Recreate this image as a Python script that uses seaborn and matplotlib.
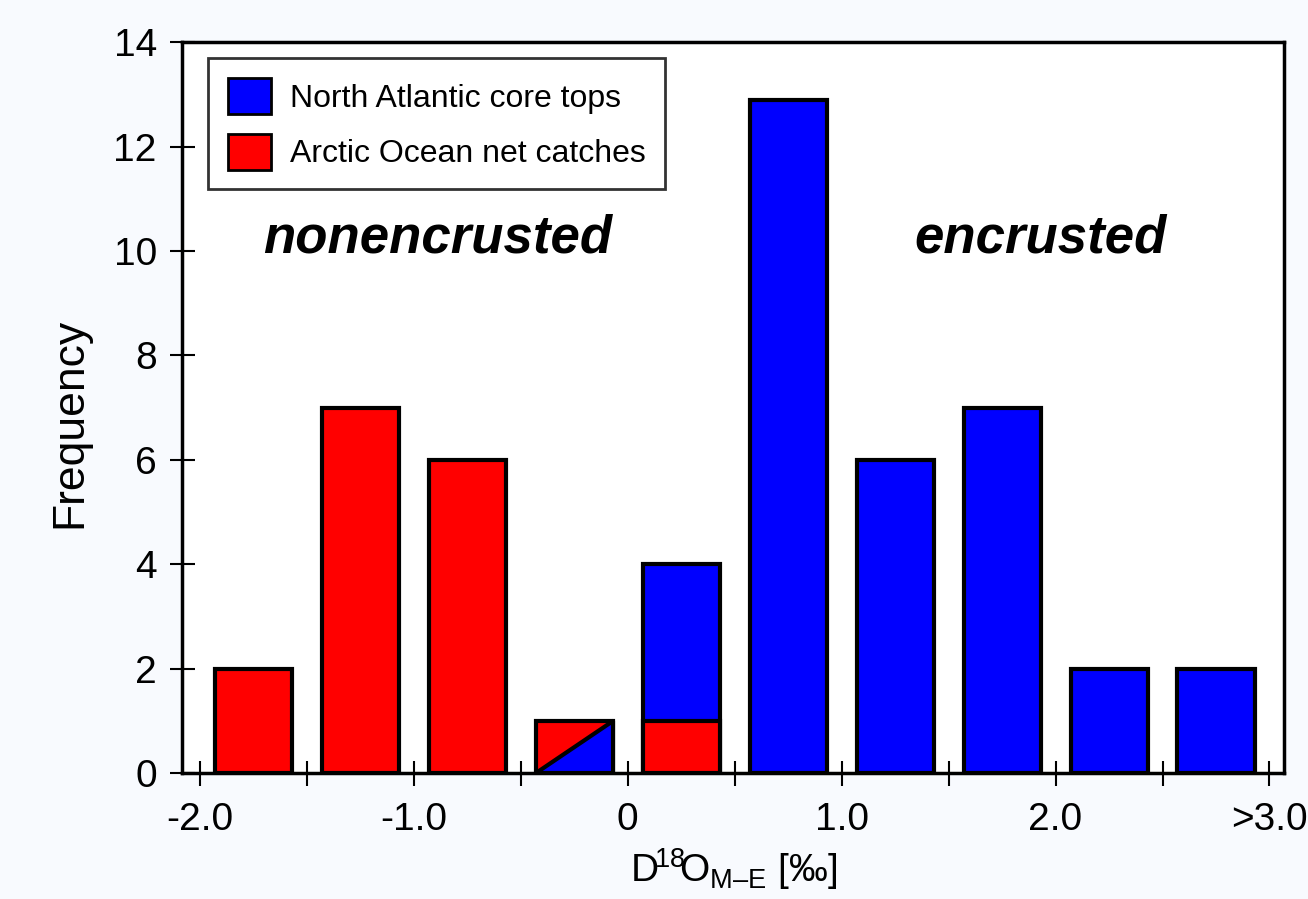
import numpy as np
import pandas as pd
import matplotlib
matplotlib.use("Agg")
import matplotlib.pyplot as plt
from matplotlib.patches import Polygon, Patch
import seaborn as sns

# -------------------------------------------------
# Data (bins of 0.5 permil)
# -------------------------------------------------
bin_centers = [-1.75, -1.25, -0.75, -0.25, 0.25, 0.75, 1.25, 1.75, 2.25, 2.75]
atlantic = [0, 0, 0, 1, 4, 12.9, 6, 7, 2, 2]   # North Atlantic core tops (stack total)
arctic = [2, 7, 6, 1, 1, 0, 0, 0, 0, 0]        # Arctic Ocean net catches
split_bin = -0.25                              # bar shared diagonally by both series

tick_pos = [-2.0, -1.5, -1.0, -0.5, 0.0, 0.5, 1.0, 1.5, 2.0, 2.5, 3.0]
tick_labels = ["-2.0", "", "-1.0", "", "0", "", "1.0", "", "2.0", "", ">3.0"]
y_ticks = [0, 2, 4, 6, 8, 10, 12, 14]

blue = "#0000FF"
red = "#FF0000"

sns.set_style("white")
plt.rcParams["font.family"] = ["Liberation Sans", "DejaVu Sans"]
plt.rcParams["mathtext.fontset"] = "custom"
plt.rcParams["mathtext.rm"] = "Liberation Sans"
plt.rcParams["mathtext.default"] = "regular"
plt.rcParams["axes.unicode_minus"] = False
plt.rcParams["text.color"] = "black"
plt.rcParams["axes.labelcolor"] = "black"

df = pd.DataFrame({"center": bin_centers, "atlantic": atlantic, "arctic": arctic})
df_blue = df[(df["atlantic"] > 0) & (df["center"] != split_bin)]
df_red = df[df["arctic"] > 0]

fig = plt.figure(figsize=(13.08, 8.99), dpi=100, facecolor="#F8FAFE")
ax = fig.add_axes([0.139, 0.140, 0.843, 0.813])
ax.set_facecolor("white")

bar_kw = dict(native_scale=True, width=0.72, saturation=1,
              edgecolor="black", linewidth=3, ax=ax)
sns.barplot(data=df_blue, x="center", y="atlantic", color=blue, **bar_kw)
sns.barplot(data=df_red, x="center", y="arctic", color=red, **bar_kw)

# split bar: lower-right half blue
for p in ax.patches:
    cx = p.get_x() + p.get_width() / 2
    if abs(cx - split_bin) < 1e-6 and p.get_facecolor()[0] > 0.9:
        x0, x1, h = p.get_x(), p.get_x() + p.get_width(), p.get_height()
        tri = Polygon([(x0, 0), (x1, 0), (x1, h)], closed=True,
                      facecolor=blue, edgecolor="black", linewidth=3,
                      joinstyle="round", zorder=p.get_zorder() + 0.1)
        ax.add_patch(tri)
        break

ax.set_xlim(-2.084, 3.07)
ax.set_ylim(0, 14)
ax.set_xticks(tick_pos)
ax.set_xticklabels(tick_labels)
ax.set_yticks(y_ticks)

for s in ax.spines.values():
    s.set_linewidth(2.5)
    s.set_color("black")

ax.tick_params(axis="both", direction="inout", length=18, width=1.5,
               labelsize=28, colors="black")
ax.tick_params(axis="x", bottom=True, pad=12)
ax.tick_params(axis="y", left=True, pad=9)

ax.set_ylabel("Frequency", fontsize=32)
ax.yaxis.set_label_coords(-0.083, 0.479)
ax.set_xlabel("D$^{\\!18}\\!$O$_{M\u2013E}$ [‰]", fontsize=28, labelpad=6)

ax.text(-0.89, 10.25, "nonencrusted", fontsize=38, fontweight="bold",
        fontstyle="italic", ha="center", va="center")
ax.text(1.93, 10.25, "encrusted", fontsize=38, fontweight="bold",
        fontstyle="italic", ha="center", va="center")

handles = [Patch(facecolor=blue, edgecolor="black", linewidth=2),
           Patch(facecolor=red, edgecolor="black", linewidth=2)]
leg = ax.legend(handles, ["North Atlantic core tops", "Arctic Ocean net catches"],
                loc="upper left", bbox_to_anchor=(0.0236, 0.978), borderaxespad=0,
                fontsize=23, handlelength=1.35, handleheight=1.35,
                handletextpad=0.6, labelspacing=0.62, borderpad=0.62,
                fancybox=False, frameon=True)
leg.get_frame().set_edgecolor("black")
leg.get_frame().set_linewidth(2)

fig.savefig("out.png", dpi=100, facecolor=fig.get_facecolor())
